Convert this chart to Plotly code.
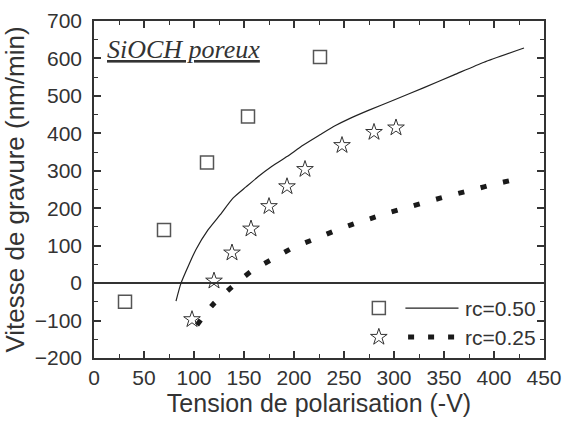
import plotly.graph_objects as go

# --- data ---
sq_x = [31, 70, 113, 154, 226]
sq_y = [-50, 142, 322, 445, 604]

star_x = [98, 120, 138, 157, 175, 193, 211, 248, 280, 302]
star_y = [-97, 6, 81, 145, 205, 258, 304, 368, 403, 415]

fit50_x = [82, 87, 95, 102, 114, 126, 139, 152, 164, 178, 193, 209, 226, 241, 256, 275, 300, 330, 360, 390, 430]
fit50_y = [-48, 0, 50, 90, 142, 182, 227, 257, 284, 312, 338, 368, 396, 420, 440, 462, 489, 522, 556, 590, 628]

fit25_x = [103, 119, 138, 158, 179, 200, 222, 243, 264, 275, 296, 317, 338, 359, 380, 400, 420, 430]
fit25_y = [-112, -57, -10, 33, 65, 96, 119, 142, 162, 171, 189, 205, 221, 236, 250, 264, 276, 282]

legend_labels = ["rc=0.50", "rc=0.25"]

AX = "#333333"
FONT = "Liberation Sans, Arial, sans-serif"

fig = go.Figure()

fig.add_trace(go.Scatter(x=fit50_x, y=fit50_y, mode="lines",
                         line=dict(color="#222222", width=1.2, shape="spline", smoothing=0.6),
                         showlegend=False))
fig.add_trace(go.Scatter(x=fit25_x, y=fit25_y, mode="lines",
                         line=dict(color="#1a1a1a", width=5, dash="6px,17px", shape="spline", smoothing=0.6),
                         showlegend=False))
fig.add_trace(go.Scatter(x=sq_x, y=sq_y, mode="markers",
                         marker=dict(symbol="square-open", size=13, color="#555555", line=dict(width=1.5)),
                         showlegend=False))
fig.add_trace(go.Scatter(x=star_x, y=star_y, mode="markers",
                         marker=dict(symbol="star-open", size=12.5, color="#333333", line=dict(width=1)),
                         showlegend=False))

# --- manual legend on a hidden overlay axis (0..1) ---
lx_sym = 0.633
lx0, lx1 = 0.692, 0.81
ly = [0.148, 0.062]
fig.add_trace(go.Scatter(x=[lx_sym], y=[ly[0]], xaxis="x2", yaxis="y2", mode="markers",
                         marker=dict(symbol="square-open", size=13, color="#555555", line=dict(width=1.5)),
                         showlegend=False))
fig.add_trace(go.Scatter(x=[lx_sym], y=[ly[1]], xaxis="x2", yaxis="y2", mode="markers",
                         marker=dict(symbol="star-open", size=12.5, color="#333333", line=dict(width=1)),
                         showlegend=False))
fig.add_trace(go.Scatter(x=[lx0, lx1], y=[ly[0], ly[0]], xaxis="x2", yaxis="y2", mode="lines",
                         line=dict(color="#222222", width=1.2), showlegend=False))
fig.add_trace(go.Scatter(x=[lx0 + 0.006, lx1], y=[ly[1], ly[1]], xaxis="x2", yaxis="y2", mode="lines",
                         line=dict(color="#1a1a1a", width=5, dash="6px,14px"), showlegend=False))
for lab, yy in zip(legend_labels, ly):
    fig.add_annotation(x=0.82, y=yy, xref="x2", yref="y2", text=lab, showarrow=False,
                       xanchor="left", yanchor="middle", font=dict(family=FONT, size=21, color=AX))

fig.add_annotation(x=0.024, y=0.914, xref="paper", yref="paper",
                   text="<u><i>SiOCH poreux</i></u>", showarrow=False,
                   xanchor="left", yanchor="middle",
                   font=dict(family="Liberation Serif, Times New Roman, serif", size=26, color="#333333"))

axis_common = dict(showline=True, linecolor=AX, linewidth=1.5, mirror="allticks",
                   ticks="inside", ticklen=7, tickwidth=1.5, tickcolor=AX,
                   showgrid=False, tickfont=dict(family=FONT, size=21, color=AX))

fig.update_layout(
    width=564, height=421,
    margin=dict(l=94, r=20, t=21, b=63),
    paper_bgcolor="white", plot_bgcolor="white",
    xaxis=dict(range=[0, 450], dtick=50, tick0=0, zeroline=False, automargin=False,
               minor=dict(dtick=25, ticks="inside", ticklen=4, tickwidth=1.2, tickcolor=AX),
               title=dict(text="Tension de polarisation (-V)", standoff=2,
                          font=dict(family=FONT, size=25, color=AX)),
               **axis_common),
    yaxis=dict(range=[-200, 700], dtick=100, tick0=0, automargin=False,
               zeroline=True, zerolinecolor=AX, zerolinewidth=1.5, ticklabelstandoff=6,
               minor=dict(dtick=50, ticks="inside", ticklen=4, tickwidth=1.2, tickcolor=AX),
               title=dict(text="Vitesse de gravure (nm/min)", standoff=3,
                          font=dict(family=FONT, size=26, color=AX)),
               **axis_common),
    xaxis2=dict(range=[0, 1], overlaying="x", visible=False, fixedrange=True),
    yaxis2=dict(range=[0, 1], overlaying="y", visible=False, fixedrange=True),
    showlegend=False,
)

fig.write_html("out.html", config={"displayModeBar": False},
               post_script="document.body.style.margin='0';document.body.style.overflow='hidden';")
